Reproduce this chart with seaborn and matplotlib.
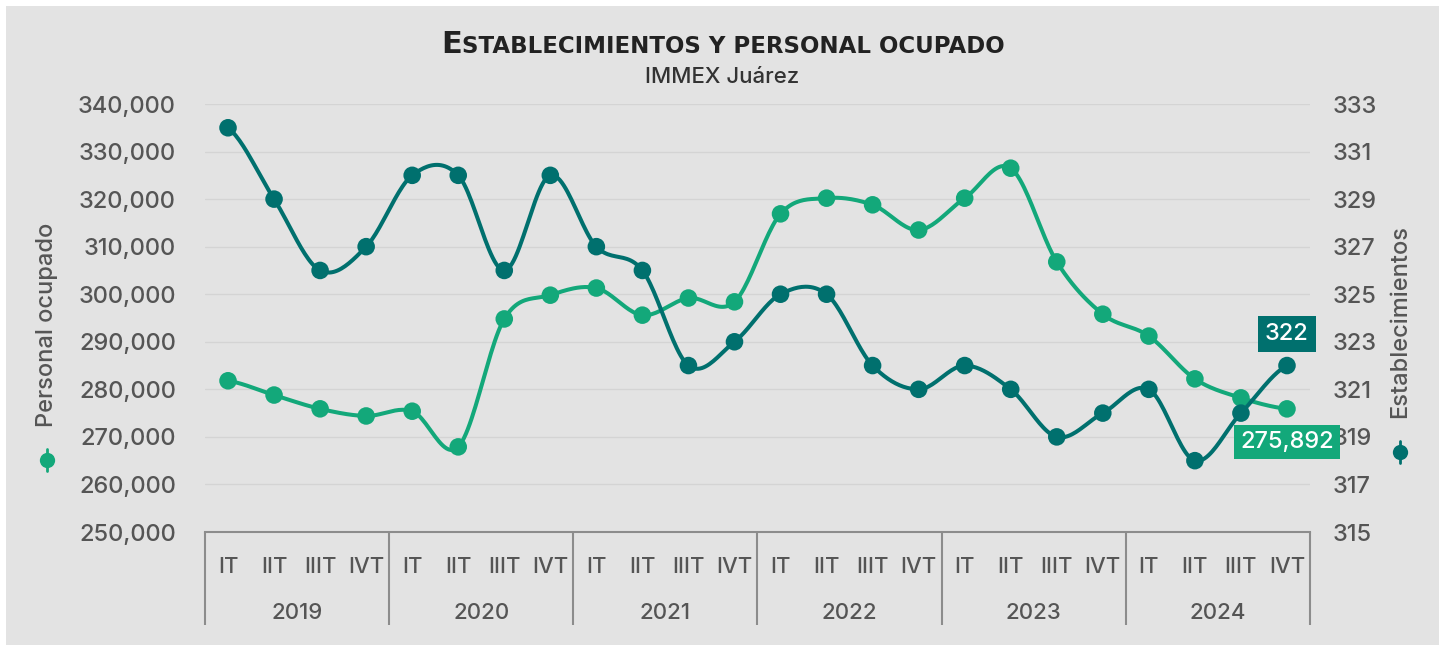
import numpy as np
import pandas as pd
import matplotlib
matplotlib.use("Agg")
import matplotlib.pyplot as plt
import matplotlib.transforms as mtransforms
from matplotlib.lines import Line2D
from matplotlib.patches import Rectangle
import seaborn as sns

# --- data ---
years = ["2019", "2020", "2021", "2022", "2023", "2024"]
quarters = ["IT", "IIT", "IIIT", "IVT"]
personal = [281800, 278800, 275900, 274400, 275400, 267900, 294800, 299800,
            301300, 295600, 299200, 298400, 316900, 320200, 318800, 313500,
            320200, 326500, 306800, 295800, 291200, 282200, 278200, 275892]
establecimientos = [332, 329, 326, 327, 330, 330, 326, 330, 327, 326, 322, 323,
                    325, 325, 322, 321, 322, 321, 319, 320, 321, 318, 320, 322]

GREEN = "#13A87A"
TEAL = "#00706E"
BG = "#E3E3E3"
TXT = "#555555"
AXC = "#8C8C8C"
FONT = "Inter"


def smooth(values, n=24):
    """Bezier smoothing through the points (catmull-rom style, like Excel)"""
    y = np.asarray(values, float)
    yp = np.concatenate([[y[0]], y, [y[-1]]])
    t = np.linspace(0, 1, n, endpoint=False)
    xs, ys = [], []
    for i in range(len(y) - 1):
        p0, p3 = y[i], y[i + 1]
        p1 = p0 + (yp[i + 2] - yp[i]) / 6
        p2 = p3 - (yp[i + 3] - yp[i + 1]) / 6
        b = (1 - t) ** 3 * p0 + 3 * (1 - t) ** 2 * t * p1 + 3 * (1 - t) * t ** 2 * p2 + t ** 3 * p3
        xs.extend(i + t)
        ys.extend(b)
    xs.append(len(y) - 1)
    ys.append(y[-1])
    return pd.DataFrame({"x": xs, "y": ys})


sns.set_theme(style="white")
plt.rcParams["font.family"] = [FONT, "DejaVu Sans"]
plt.rcParams["font.weight"] = "medium"

fig = plt.figure(figsize=(14.45, 6.51), dpi=100, facecolor="white")
fig.patches.append(Rectangle((6 / 1445, 6 / 651), 1 - 12 / 1445, 1 - 12 / 651,
                             transform=fig.transFigure, facecolor=BG, edgecolor="none", zorder=-10))

ax = fig.add_axes([205 / 1445, 1 - 532 / 651, 1105 / 1445, 428 / 651])
ax.set_facecolor("none")
ax2 = ax.twinx()
ax2.set_facecolor("none")

n = len(personal)
xi = np.arange(n)

# personal ocupado (left axis)
sns.lineplot(data=smooth(personal), x="x", y="y", ax=ax, color=GREEN, lw=2.9,
             estimator=None, sort=False, zorder=3)
sns.scatterplot(x=xi, y=personal, ax=ax, color=GREEN, s=160, edgecolor="none", zorder=4)

# establecimientos (right axis)
sns.lineplot(data=smooth(establecimientos), x="x", y="y", ax=ax2, color=TEAL, lw=2.9,
             estimator=None, sort=False, zorder=3)
sns.scatterplot(x=xi, y=establecimientos, ax=ax2, color=TEAL, s=160, edgecolor="none", zorder=4)

ax.set_xlim(-0.5, n - 0.5)
ax.set_ylim(250000, 340000)
ax2.set_ylim(315, 333)
ax.set_yticks(np.arange(250000, 340001, 10000))
ax.set_yticklabels([f"{v:,.0f}" for v in np.arange(250000, 340001, 10000)])
ax2.set_yticks(np.arange(315, 334, 2))

ax.set_xlabel("")
ax.set_ylabel("")
ax2.set_xlabel("")
ax2.set_ylabel("")

ax.yaxis.grid(True, color="#D4D4D4", lw=1)
ax.set_axisbelow(True)

for s in ["top", "left", "right"]:
    ax.spines[s].set_visible(False)
    ax2.spines[s].set_visible(False)
ax2.spines["bottom"].set_visible(False)
ax.spines["bottom"].set_color(AXC)
ax.spines["bottom"].set_linewidth(1.5)

ax.tick_params(axis="y", length=0, pad=21, labelsize=17, labelcolor=TXT)
ax2.tick_params(axis="y", length=0, pad=16, labelsize=17, labelcolor=TXT)

# multi level category axis
ax.set_xticks(np.arange(-0.5, n, 4))
ax.set_xticklabels([])
ax.tick_params(axis="x", which="both", bottom=True)
ax.tick_params(axis="x", which="major", length=67, width=1.5, color=AXC, direction="out")
ax.set_xticks(xi, minor=True)
ax.set_xticklabels(quarters * len(years), minor=True)
ax.tick_params(axis="x", which="minor", length=0, pad=18, labelsize=16, labelcolor=TXT)

trans = mtransforms.blended_transform_factory(ax.transData, ax.transAxes)
for k, yr in enumerate(years):
    ax.text(4 * k + 1.5, -0.19, yr, transform=trans, ha="center", va="center",
            fontsize=16, color=TXT)

# end-of-series labels
ax2.annotate("322", xy=(n - 1, establecimientos[-1]), xytext=(0, 23), textcoords="offset points",
             ha="center", va="center", fontsize=17, color="white", zorder=10,
             bbox=dict(boxstyle="square,pad=0.3", facecolor=TEAL, edgecolor="none"))
ax2.annotate(f"{personal[-1]:,}", xy=(n - 1, personal[-1]), xycoords=ax.transData,
             xytext=(0, -24), textcoords="offset points",
             ha="center", va="center", fontsize=17, color="white", zorder=10,
             bbox=dict(boxstyle="square,pad=0.25", facecolor=GREEN, edgecolor="none"))

# axis titles with series symbols
fig.text(47 / 1445, 1 - 325 / 651, "Personal ocupado", rotation=90, ha="center", va="center",
         fontsize=17, color=TXT)
fig.add_artist(Line2D([47 / 1445] * 2, [1 - 449 / 651, 1 - 471 / 651], color=GREEN, lw=2))
fig.add_artist(Line2D([47 / 1445], [1 - 460 / 651], marker="o", ms=11, color=GREEN, mec="none"))
fig.text(1400 / 1445, 1 - 322 / 651, "Establecimientos", rotation=90, ha="center", va="center",
         fontsize=17, color=TXT)
fig.add_artist(Line2D([1400 / 1445] * 2, [1 - 441 / 651, 1 - 463 / 651], color=TEAL, lw=2))
fig.add_artist(Line2D([1400 / 1445], [1 - 452 / 651], marker="o", ms=11, color=TEAL, mec="none"))

# small caps title
base = 1 - 53 / 651
tfam = ["DejaVu Sans"]
t1 = fig.text(0.5, base, "E", fontsize=22, fontweight="bold", color="#222222",
              ha="left", va="baseline", family=tfam)
t2 = fig.text(0.5, base, "STABLECIMIENTOS Y PERSONAL OCUPADO", fontsize=16.5, fontweight="bold",
              color="#222222", ha="left", va="baseline", family=tfam)
fig.canvas.draw()
r = fig.canvas.get_renderer()
w1 = t1.get_window_extent(r).width
w2 = t2.get_window_extent(r).width
x0 = (fig.bbox.width - (w1 + w2)) / 2
t1.set_x(x0 / fig.bbox.width)
t2.set_x((x0 + w1) / fig.bbox.width)
fig.text(0.5, 1 - 83 / 651, "IMMEX Juárez", ha="center", va="baseline", fontsize=16, color="#333333")

fig.savefig("out.png", dpi=100)
